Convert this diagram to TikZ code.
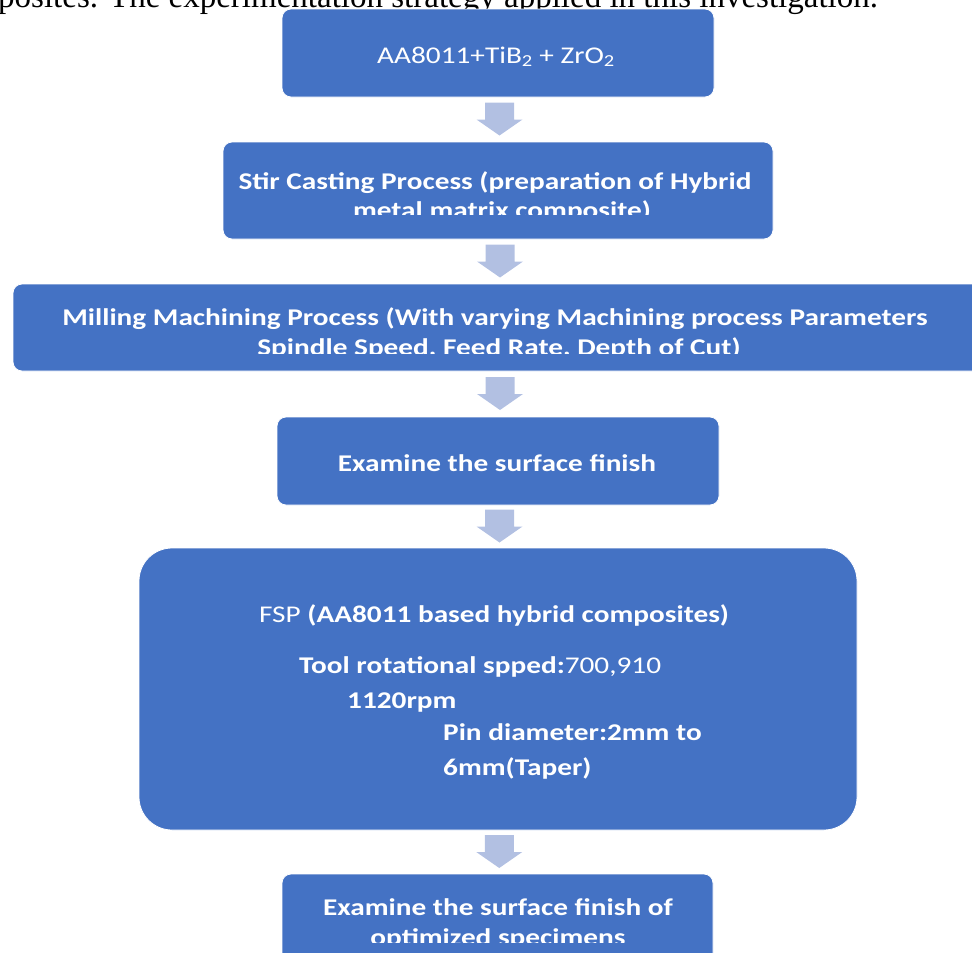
\documentclass[tikz,border=0pt]{standalone}
\usepackage{fontspec}
\setmainfont{Carlito}
\newfontfamily\bxfont[FakeStretch=1.22]{Carlito}
\newfontfamily\serfont{Liberation Serif}
\usetikzlibrary{calc}
\definecolor{boxblue}{HTML}{4472C4}
\definecolor{arrowc}{RGB}{178,192,226}
\tikzset{
  flowbox/.style={draw=white, line width=0.8pt, fill=boxblue, rounded corners=9pt, inner sep=0pt},
  boxtxt/.style={text=white, inner sep=0pt, anchor=base, font=\bxfont\bfseries\fontsize{24}{29}\selectfont},
  boxtxtl/.style={boxtxt, anchor=base west},
}
\newcommand{\blockarrow}[2]{%
  \coordinate (m#1) at ($(#1.south)!0.5!(#2.north)+(1.5,0)$);
  \fill[arrowc] ([shift={(-14.5,-17)}]m#1) -- ([shift={(14.5,-17)}]m#1) -- ([shift={(14.5,0)}]m#1)
    -- ([shift={(23,0)}]m#1) -- ([shift={(0,16)}]m#1) -- ([shift={(-23,0)}]m#1)
    -- ([shift={(-14.5,0)}]m#1) -- cycle;}
\begin{document}
\begin{tikzpicture}[x=1pt,y=-1pt]
\useasboundingbox (0,0) rectangle (972,953);
\clip (0,0) rectangle (972,953);
% clipped caption line at the very top
\node[anchor=base west, inner sep=0pt, font=\serfont\fontsize{33}{38}\selectfont] (cap) at (-2,8)
  {posites. The experimentation strategy applied in this investigation.};
% boxes
\node[flowbox, minimum width=432pt, minimum height=88pt] (b1) at (498,53) {};
\node[flowbox, minimum width=550pt, minimum height=97pt] (b2) at (498,190.5) {};
\node[flowbox, minimum width=972pt, minimum height=87pt] (b3) at (499,327.5) {};
\node[flowbox, minimum width=442pt, minimum height=88pt] (b4) at (498,461) {};
\node[flowbox, rounded corners=33pt, minimum width=718pt, minimum height=282pt] (b5) at (498,689) {};
\node[flowbox, minimum width=431pt, minimum height=88pt] (b6) at (497.5,918) {};
% arrows
\blockarrow{b1}{b2}
\blockarrow{b2}{b3}
\blockarrow{b3}{b4}
\blockarrow{b4}{b5}
\blockarrow{b5}{b6}
% texts
\node[boxtxt, font=\bxfont\fontsize{24}{29}\selectfont] (t1) at (496,63) {AA8011+TiB\textsubscript{2} + ZrO\textsubscript{2}};
\node[boxtxt] (t2a) at (495,189) {Stir Casting Process (preparation of Hybrid};
\begin{scope}
  \clip (0,195) rectangle (972,214);
  \node[boxtxt] (t2b) at (502,218) {metal matrix composite)};
\end{scope}
\node[boxtxt] (t3a) at (495,325) {Milling Machining Process (With varying Machining process Parameters};
\begin{scope}
  \clip (0,331) rectangle (972,353);
  \node[boxtxt] (t3b) at (499,355) {Spindle Speed, Feed Rate, Depth of Cut)};
\end{scope}
\node[boxtxt] (t4) at (497,471) {Examine the surface finish};
\node[boxtxtl] (t5a) at (259,622) {{\mdseries FSP} (AA8011 based hybrid composites)};
\node[boxtxtl] (t5b) at (299,673) {Tool rotational spped:{\mdseries 700,910}};
\node[boxtxtl] (t5c) at (347,708) {1120rpm};
\node[boxtxtl] (t5d) at (443,740) {Pin diameter:2mm to};
\node[boxtxtl] (t5e) at (443,775) {6mm(Taper)};
\node[boxtxt] (t6a) at (498,915) {Examine the surface finish of};
\begin{scope}
  \clip (0,921) rectangle (972,942);
  \node[boxtxt] (t6b) at (498,945) {optimized specimens};
\end{scope}
\end{tikzpicture}
\end{document}
